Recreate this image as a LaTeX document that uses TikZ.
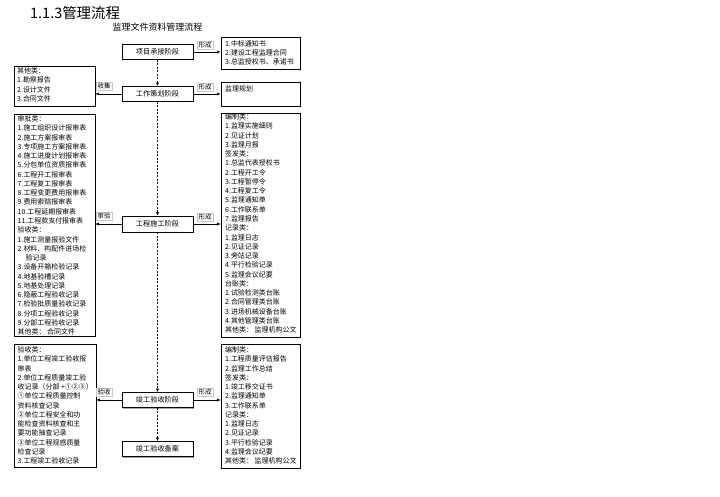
\documentclass[tikz,border=0pt]{standalone}
\usepackage{fontspec}
\setmainfont{Noto Sans CJK SC}
\usetikzlibrary{arrows.meta,shadows}
\tikzset{
  shad/.style={drop shadow={shadow xshift=1bp, shadow yshift=-1bp, fill=black!35, opacity=1}},
  phase/.style={draw=black, line width=0.6bp, fill=white, minimum width=71bp, minimum height=15bp, inner sep=0pt, font=\fontsize{7.2}{8}\selectfont, shad},
  docbox/.style={draw=black, line width=0.6bp, fill=white, inner sep=0pt, shad},
  doctext/.style={anchor=north west, inner sep=0pt, align=left, font=\fontsize{7}{9.3}\selectfont},
  lab/.style={draw=black!22, line width=0.4bp, fill=white, inner xsep=1.5bp, inner ysep=1.2bp, font=\fontsize{6.5}{7}\selectfont},
  arr/.style={-{Latex[length=3.5bp,width=3bp]}, line width=0.6bp},
  dsh/.style={arr, line width=0.7bp, dash pattern=on 2bp off 1.5bp},
}
\begin{document}
\begin{tikzpicture}[x=1bp,y=-1bp]
\useasboundingbox (0,0) rectangle (720,497);
\fill[white] (0,0) rectangle (720,497);
% titles
\node[anchor=base west, inner sep=0pt, font=\fontsize{14.5}{16}\selectfont] (title) at (30,18.5) {1.1.3管理流程};
\node[inner sep=0pt, font=\fontsize{9}{10}\selectfont] (sub) at (157.5,27) {监理文件资料管理流程};
% phase boxes
\node[phase] (a) at (157.5,52) {项目承接阶段};
\node[phase] (b) at (157.5,94) {工作策划阶段};
\node[phase, minimum height=16bp] (c) at (157.5,224) {工程施工阶段};
\node[phase] (d) at (157.5,400) {竣工验收阶段};
\node[phase] (e) at (157.5,449) {竣工验收备案};
% right document boxes
\node[docbox, minimum width=79bp, minimum height=32bp] (a1) at (260.5,53) {};
\node[docbox, minimum width=79bp, minimum height=24bp] (b1) at (260.5,94) {};
\node[docbox, minimum width=79bp, minimum height=224bp] (c1) at (260.5,225) {};
\node[docbox, minimum width=79bp, minimum height=124bp] (d1) at (260.5,406) {};
% left document boxes
\node[docbox, minimum width=81bp, minimum height=40bp] (b0) at (54.5,86) {};
\node[docbox, minimum width=81bp, minimum height=222bp] (c0) at (54.5,225) {};
\node[docbox, minimum width=82bp, minimum height=123bp] (d0) at (55,405.5) {};
% texts
\node[doctext] (a1t) at (225,40) {1.中标通知书\\2.建设工程监理合同\\3.总监授权书、承诺书};
\node[doctext] (b1t) at (225,85) {监理规划};
\node[doctext] (b0t) at (17,67.5) {其他类：\\1.勘察报告\\2.设计文件\\3.合同文件};
\node[doctext] (c0t) at (17.5,115.5) {审批类：\\1.施工组织设计报审表\\2.施工方案报审表\\3.专项施工方案报审表\\4.施工进度计划报审表\\5.分包单位资质报审表\\6.工程开工报审表\\7.工程复工报审表\\8.工程变更费用报审表\\9.费用索赔报审表\\10.工程延期报审表\\11.工程款支付报审表\\验收类：\\1.施工测量报验文件\\2.材料、构配件进场检\\\hspace*{8bp}验记录\\3.设备开箱检验记录\\4.地基验槽记录\\5.地基处理记录\\6.隐蔽工程验收记录\\7.检验批质量验收记录\\8.分项工程验收记录\\9.分部工程验收记录\\其他类： 合同文件};
\node[doctext] (c1t) at (225,113.5) {编制类：\\1.监理实施细则\\2.见证计划\\3.监理月报\\签发类：\\1.总监代表授权书\\2.工程开工令\\3.工程暂停令\\4.工程复工令\\5.监理通知单\\6.工作联系单\\7.监理报告\\记录类：\\1.监理日志\\2.见证记录\\3.旁站记录\\4.平行检验记录\\5.监理会议纪要\\台账类：\\1.试验检测类台账\\2.合同管理类台账\\3.进场机械设备台账\\4.其他管理类台账\\其他类： 监理机构公文};
\node[doctext] (d0t) at (17.5,346.5) {验收类：\\1.单位工程竣工验收报\\审表\\2.单位工程质量竣工验\\收记录（分部 +①②③）\\①单位工程质量控制\\资料核查记录\\②单位工程安全和功\\能检查资料核查和主\\要功能抽查记录\\③单位工程观感质量\\检查记录\\3.工程竣工验收记录};
\node[doctext] (d1t) at (225,346.5) {编制类：\\1.工程质量评估报告\\2.监理工作总结\\签发类：\\1.竣工移交证书\\2.监理通知单\\3.工作联系单\\记录类：\\1.监理日志\\2.见证记录\\3.平行检验记录\\4.监理会议纪要\\其他类： 监理机构公文};
% labels
\node[lab] (la) at (205,45.5) {形成};
\node[lab] (lb) at (205,87) {形成};
\node[lab] (lb0) at (104,86.5) {收集};
\node[lab] (lc0) at (104,216.5) {审验};
\node[lab] (lc) at (205,217) {形成};
\node[lab] (ld0) at (104,392) {验收};
\node[lab] (ld) at (205,392) {形成};
% connectors
\draw[arr] (a.east) -- (a.east -| a1.west);
\draw[arr] (b.east) -- (b.east -| b1.west);
\draw[arr] (b.west) -- (b.west -| b0.east);
\draw[arr] (c.east) -- (c.east -| c1.west);
\draw[arr] (c.west) -- (c.west -| c0.east);
\draw[arr] (d.east) -- (d.east -| d1.west);
\draw[arr] (d.west) -- (d.west -| d0.east);
\draw[dsh] (a.south) -- (b.north);
\draw[dsh] (b.south) -- (c.north);
\draw[dsh] (c.south) -- (d.north);
\draw[dsh] (d.south) -- (e.north);
\end{tikzpicture}
\end{document}
